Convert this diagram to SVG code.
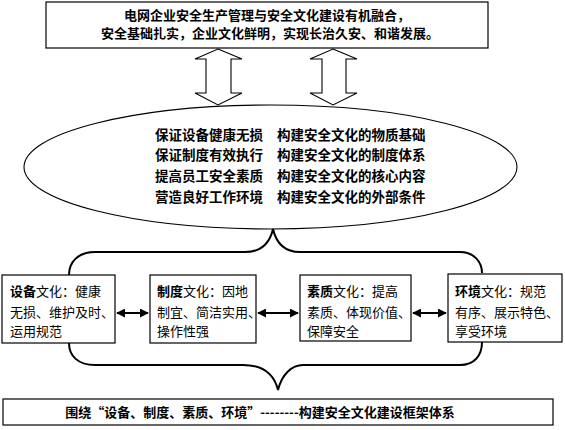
<svg xmlns="http://www.w3.org/2000/svg" width="565" height="430" viewBox="0 0 565 430">
<defs>
<style>
.box{fill:#fff;stroke:#000;stroke-width:1.2}
.ln{fill:none;stroke:#000;stroke-width:1.1}
.br{fill:none;stroke:#000;stroke-width:2}
.t{font-family:"Noto Sans CJK SC","Liberation Sans",sans-serif;font-size:13px;fill:#000}
.e{font-size:13.5px}
.b{font-weight:bold}
</style>
<marker id="ah" viewBox="0 0 10 10" refX="9" refY="5" markerWidth="4.5" markerHeight="4.5" orient="auto-start-reverse">
<path d="M0,0 L10,5 L0,10 z" fill="#000"/>
</marker>
</defs>
<rect width="565" height="430" fill="#fff"/>

<g id="top">
<rect class="box" x="46" y="2" width="442" height="46"/>
<text class="t b" x="267" y="20" text-anchor="middle">电网企业安全生产管理与安全文化建设有机融合，</text>
<text class="t b" x="270" y="38" text-anchor="middle">安全基础扎实，企业文化鲜明，实现长治久安、和谐发展。</text>
</g>

<g id="core">
<ellipse class="ln" cx="270.5" cy="167" rx="246.5" ry="62"/>
<text class="t e b" x="155" y="140">保证设备健康无损</text>
<text class="t e b" x="277" y="140">构建安全文化的物质基础</text>
<text class="t e b" x="155" y="160">保证制度有效执行</text>
<text class="t e b" x="277" y="160">构建安全文化的制度体系</text>
<text class="t e b" x="155" y="181">提高员工安全素质</text>
<text class="t e b" x="277" y="181">构建安全文化的核心内容</text>
<text class="t e b" x="155" y="202">营造良好工作环境</text>
<text class="t e b" x="277" y="202">构建安全文化的外部条件</text>
</g>

<g id="b1">
<rect class="box" x="2" y="275" width="113" height="68"/>
<text class="t" x="10" y="296"><tspan class="b">设备</tspan>文化：健康</text>
<text class="t" x="10" y="317">无损、维护及时、</text>
<text class="t" x="10" y="336">运用规范</text>
</g>
<g id="b2">
<rect class="box" x="150" y="275" width="106" height="68"/>
<text class="t" x="157" y="296"><tspan class="b">制度</tspan>文化：因地</text>
<text class="t" x="157" y="317">制宜、简洁实用、</text>
<text class="t" x="157" y="336">操作性强</text>
</g>
<g id="b3">
<rect class="box" x="300" y="275" width="111" height="66"/>
<text class="t" x="307" y="296"><tspan class="b">素质</tspan>文化：提高</text>
<text class="t" x="307" y="317">素质、体现价值、</text>
<text class="t" x="307" y="336">保障安全</text>
</g>
<g id="b4">
<rect class="box" x="448" y="274" width="114" height="68"/>
<text class="t" x="455" y="296"><tspan class="b">环境</tspan>文化：规范</text>
<text class="t" x="455" y="317">有序、展示特色、</text>
<text class="t" x="455" y="336">享受环境</text>
</g>

<g id="bottom">
<rect class="box" x="3" y="399" width="550" height="26"/>
<text class="t b" x="260" y="417" text-anchor="middle">围绕“设备、制度、素质、环境”--------构建安全文化建设框架体系</text>
</g>

<g id="connectors">
<path class="ln" d="M218,49 L242,59 L231,59 L231,93 L242,93 L218,105 L195,93 L206,93 L206,59 L195,59 Z" fill="#fff"/>
<path class="ln" d="M333,49 L357,59 L346,59 L346,93 L357,93 L333,105 L310,93 L322,93 L322,59 L310,59 Z" fill="#fff"/>
<path class="br" d="M69,275 C69,262 78,252 95,252 L245,252 C262,252 270,242 273,229 C276,242 284,252 300,252 L460,252 C474,252 482,262 482,273"/>
<path class="br" d="M69,343 C69,356 78,365 95,365 L243,365 C262,365 274,374 278,390 C282,374 292,365 303,365 L460,365 C474,365 482,356 482,342"/>
<line class="br" x1="117" y1="313" x2="148" y2="313" marker-start="url(#ah)" marker-end="url(#ah)"/>
<line class="br" x1="258" y1="313" x2="298" y2="313" marker-start="url(#ah)" marker-end="url(#ah)"/>
<line class="br" x1="413" y1="313" x2="446" y2="313" marker-start="url(#ah)" marker-end="url(#ah)"/>
</g>
</svg>
